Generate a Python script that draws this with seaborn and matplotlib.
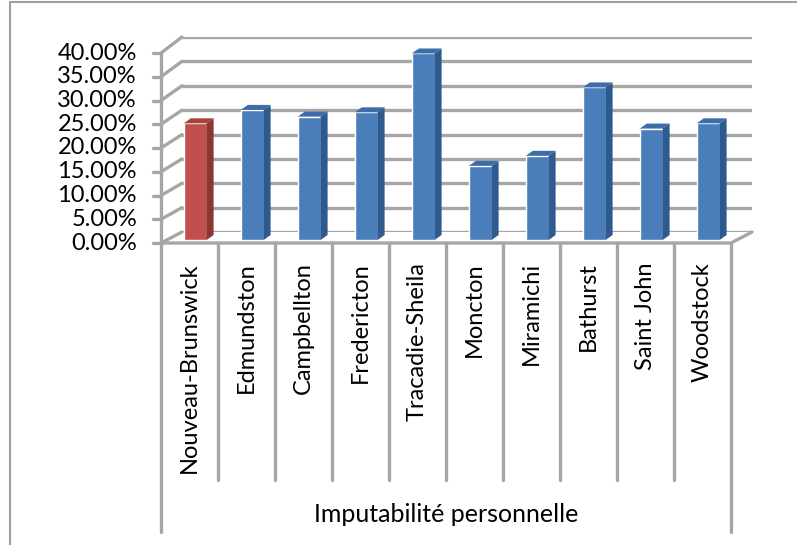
import numpy as np
import pandas as pd
import seaborn as sns
import matplotlib
matplotlib.use("Agg")
import matplotlib.pyplot as plt
from matplotlib.patches import Polygon
from matplotlib.lines import Line2D
from matplotlib.transforms import IdentityTransform

# ---- data ----
cities = ["Nouveau-Brunswick", "Edmundston", "Campbellton", "Fredericton",
          "Tracadie-Sheila", "Moncton", "Miramichi", "Bathurst",
          "Saint John", "Woodstock"]
values = [24.4, 27.2, 25.8, 26.7, 39.0, 15.5, 17.6, 31.9, 23.3, 24.4]
group_label = "Imputabilité personnelle"
y_ticks = [0, 5, 10, 15, 20, 25, 30, 35, 40]
y_tick_labels = [f"{t:.2f}%" for t in y_ticks]

front_colors = ["#C0504D"] + ["#4A7EBB"] * 9
side_colors = ["#8C3533"] + ["#2E5A8E"] * 9
cap_colors = ["#A8423F"] + ["#3D6CA6"] * 9

W, H = 797, 545
sns.set_theme(style="white")
plt.rcParams["font.family"] = ["Lato", "DejaVu Sans"]
fig = plt.figure(figsize=(W / 100, H / 100), dpi=100)
fig.patch.set_facecolor("white")

GRID = "#A6A6A6"


def add_axes_px(x0, x1, ytop, ybot):
    """Axes placed by pixel box (y measured from the top of the figure)."""
    return fig.add_axes([x0 / W, (H - ybot) / H, (x1 - x0) / W, (ybot - ytop) / H])


def style_blank(ax):
    ax.set_xlim(-0.5, len(cities) - 0.5)
    ax.set_ylim(0, 40)
    ax.set_facecolor("none")
    for s in ax.spines.values():
        s.set_visible(False)
    ax.set_xticks([])
    ax.set_yticks([])
    ax.set_xlabel("")
    ax.set_ylabel("")


# front plane (value axis), back wall, and mid-depth plane for the columns
ax_front = add_axes_px(161, 731, 53, 243)
ax_back = add_axes_px(182, 752, 37, 232)
ax_bars = add_axes_px(166.7, 736.7, 48.7, 240)
for a in (ax_front, ax_back, ax_bars):
    style_blank(a)
ax_back.set_zorder(0)
ax_front.set_zorder(1)
ax_bars.set_zorder(2)

# back wall gridlines
for t in y_ticks:
    ax_back.axhline(t, color=GRID, lw=2.4)

# left wall: slanted lines joining the front value axis to the back wall
n = len(cities)
for t in y_ticks:
    p0 = ax_front.transData.transform((-0.5, t))
    p1 = ax_back.transData.transform((-0.5, t))
    fig.add_artist(Line2D([p0[0], p1[0]], [p0[1], p1[1]], color=GRID, lw=2.4,
                          transform=IdentityTransform()))
# floor: front edge and right slant
f0 = ax_front.transData.transform((-0.5, 0))
f1 = ax_front.transData.transform((n - 0.5, 0))
b1 = ax_back.transData.transform((n - 0.5, 0))
fig.add_artist(Line2D([f0[0], f1[0], b1[0]], [f0[1], f1[1], b1[1]], color=GRID,
                      lw=2.4, transform=IdentityTransform()))

# value axis line, ticks and labels
top = ax_front.transData.transform((-0.5, 40))
fig.add_artist(Line2D([f0[0], top[0]], [f0[1], top[1]], color=GRID, lw=2.4,
                      transform=IdentityTransform()))
for t, lab in zip(y_ticks, y_tick_labels):
    p = ax_front.transData.transform((-0.5, t))
    fig.add_artist(Line2D([p[0] - 8, p[0]], [p[1], p[1]], color=GRID, lw=2.4,
                          transform=IdentityTransform()))
    fig.text((p[0] - 24) / W, p[1] / H, lab, ha="right", va="center",
             fontsize=17, color="black")

# columns
df = pd.DataFrame({"city": cities, "value": values})
sns.barplot(data=df, x="city", y="value", hue="city", palette=front_colors,
            legend=False, width=0.40, saturation=1, ax=ax_bars, zorder=3)
style_blank(ax_bars)

DX, DY = 7, 5
for patch, sc, cc in zip(ax_bars.patches, side_colors, cap_colors):
    bb = patch.get_bbox()
    (x0, y0) = ax_bars.transData.transform((bb.x0, bb.y0))
    (x1, y1) = ax_bars.transData.transform((bb.x1, bb.y1))
    side = Polygon([(x1, y0), (x1 + DX, y0 + DY), (x1 + DX, y1 + DY), (x1, y1)],
                   closed=True, facecolor=sc, edgecolor="none",
                   transform=IdentityTransform(), zorder=4)
    cap = Polygon([(x0, y1), (x0 + DX, y1 + DY), (x1 + DX, y1 + DY), (x1, y1)],
                  closed=True, facecolor=cc, edgecolor="none",
                  transform=IdentityTransform(), zorder=4)
    fig.add_artist(side)
    fig.add_artist(cap)

# category axis (two levels)
slot = (f1[0] - f0[0]) / n
y_axis = f0[1]
for k in range(n + 1):
    x = f0[0] + k * slot
    y_end = H - 532 if k in (0, n) else H - 480
    fig.add_artist(Line2D([x, x], [y_axis, y_end], color=GRID, lw=2.4,
                          transform=IdentityTransform()))
for i, c in enumerate(cities):
    x = f0[0] + (i + 0.5) * slot
    fig.text(x / W, (H - 262) / H, c, rotation=90, ha="center", va="top",
             fontsize=17, color="black")
fig.text(((f0[0] + f1[0]) / 2) / W, (H - 515) / H, group_label,
         ha="center", va="center", fontsize=18, color="black")

# chart frame
fig.add_artist(Line2D([10, 10, W + 5], [-5, H - 1.5, H - 1.5], color="#A0A0A0",
                      lw=1.5, transform=IdentityTransform()))

fig.savefig("out.png", dpi=100)
